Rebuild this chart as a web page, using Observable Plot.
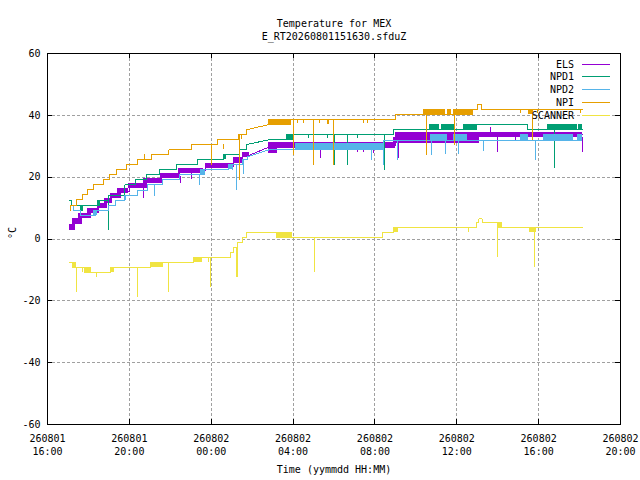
<!DOCTYPE html>
<html><head><meta charset="utf-8">
<script src="https://cdn.jsdelivr.net/npm/d3@7"></script>
<script src="https://cdn.jsdelivr.net/npm/@observablehq/plot@0.6"></script>
<style>body{margin:0;background:#fff}svg{display:block}</style>
</head><body><div id="chart"></div>
<script>
// ---- labels / ticks ----
const titleLines = ["Temperature for MEX", "E_RT20260801151630.sfduZ"];
const xTitle = "Time (yymmdd HH:MM)";
const yTitle = "°C";
const seriesNames = ["ELS", "NPD1", "NPD2", "NPI", "SCANNER"];
const seriesColors = ["#9400d3", "#009e73", "#56b4e9", "#e69f00", "#f0e442"];
// x = hours since 260801 16:00
const xTicks = [0, 4, 8, 12, 16, 20, 24, 28];
const xTickLabels = ["260801\n16:00", "260801\n20:00", "260802\n00:00", "260802\n04:00", "260802\n08:00", "260802\n12:00", "260802\n16:00", "260802\n20:00"];
const yTicks = [-60, -40, -20, 0, 20, 40, 60];

// ---- ELS ----
const elsLine = [[1.08,3.7],[1.30,3.7],[1.30,5.6],[1.60,5.6],[1.60,7.3],[2.00,7.3],[2.00,9.0],[2.50,9.0],[2.50,10.6],[2.85,10.6],[2.85,12.2],[3.10,12.2],[3.10,13.8],[3.50,13.8],[3.50,15.4],[4.00,15.4],[4.00,17.0],[4.80,17.0],[4.80,18.7],[5.55,18.7],[5.55,20.3],[6.45,20.3],[6.45,22.0],[7.70,22.0],[7.70,23.6],[9.10,23.6],[9.10,25.4],[9.54,25.4],[9.54,27.1],[9.87,27.1],[10.81,29.7],[10.81,30.3],[17.0,30.3],[17.0,33.8],[26.13,33.8]];
const elsBands = [[1.08,1.37,2.7,4.7],[1.24,1.70,4.7,6.5],[1.53,2.15,6.5,8.2],[1.94,2.56,8.2,9.8],[2.43,2.92,9.8,11.4],[2.80,3.16,11.4,13.0],[3.08,3.62,13.0,14.6],[3.41,3.97,14.6,16.2],[3.97,4.90,16.2,17.9],[4.71,5.60,17.9,19.5],[5.52,6.50,19.5,21.1],[6.42,7.64,21.1,22.9],[7.72,9.10,22.7,24.5],[9.10,9.54,24.5,26.3],[9.54,9.87,26.3,27.9],[10.81,11.22,27.7,29.3],[10.81,17.0,29.3,31.2],[16.9,21.1,31.0,32.9],[17.0,26.13,32.9,34.6]];
const elsSpikes = [[4.71,17.0,13.0],[6.50,20.3,17.9],[7.02,22.0,19.1],[10.98,29.3,28.1],[11.15,29.3,28.1],[13.34,29.3,26.0],[15.13,29.3,28.1],[15.46,29.3,28.1],[15.95,29.3,27.8],[17.17,31.0,26.0],[21.65,34.6,36.0],[22.0,32.9,28.0],[22.87,32.9,31.4],[26.13,32.9,28.0]];

// ---- NPD1 ----
const npd1Line = [[1.08,12.5],[1.17,12.5],[1.17,10.8],[2.43,10.8],[2.43,12.5],[3.00,12.5],[3.00,14.1],[3.78,14.1],[3.78,17.5],[4.30,17.5],[4.30,19.1],[4.82,19.1],[4.82,20.8],[5.47,20.8],[5.47,22.4],[6.29,22.4],[6.29,24.0],[7.32,24.0],[7.32,25.6],[8.59,25.6],[8.59,27.2],[9.38,27.2],[9.38,28.8],[9.71,28.8],[9.71,30.5],[10.81,32.1],[12.04,32.1],[12.04,33.7],[16.92,33.7],[16.92,35.4],[20.96,35.4],[20.96,37.0],[23.44,37.0],[23.44,35.4],[26.14,35.4]];
const npd1Bands = [[1.61,1.77,8.9,10.8],[2.43,2.59,10.5,12.5],[8.59,8.73,25.6,27.2],[11.68,12.04,32.1,33.7],[18.68,19.17,35.4,37.0],[19.24,19.94,35.4,37.0],[20.34,20.96,35.4,37.0],[24.42,25.88,35.4,37.0],[25.95,26.14,35.4,37.0]];
const npd1Spikes = [[3.00,12.5,2.7],[12.04,33.7,32.5],[12.77,33.7,32.5],[13.67,33.7,32.5],[14.04,33.7,23.8],[14.67,33.7,23.8],[15.17,33.7,32.5],[16.48,33.7,22.2],[24.79,35.4,22.8]];

// ---- NPD2 ----
const npd2Line = [[1.13,10.8],[1.25,10.8],[1.25,9.2],[1.60,9.2],[1.60,7.6],[2.35,7.6],[2.35,9.2],[3.00,9.2],[3.00,10.8],[3.32,10.8],[3.32,12.5],[3.78,12.5],[3.78,14.1],[4.38,14.1],[4.38,15.7],[4.90,15.7],[4.90,17.5],[5.60,17.5],[5.60,19.1],[6.45,19.1],[6.45,20.8],[7.48,20.8],[7.48,22.4],[8.86,22.4],[8.86,24.0],[9.51,24.0],[9.51,25.6],[9.76,25.6],[9.76,26.6],[10.81,28.8],[16.43,28.8],[16.43,32.0],[26.13,32.0]];
const npd2Bands = [[2.26,2.43,7.6,9.2],[7.48,7.72,20.5,22.4],[8.86,9.03,22.4,24.0],[12.1,16.43,28.8,30.8],[18.72,19.53,32.0,33.8],[19.85,20.51,32.0,33.8],[23.11,23.52,32.0,33.8],[24.25,25.72,32.0,33.8],[25.88,26.13,32.0,33.8]];
const npd2Spikes = [[3.81,14.1,12.5],[5.23,17.5,13.7],[7.44,20.8,17.3],[9.03,24.0,22.0],[9.24,24.0,15.7],[9.59,25.6,20.8],[15.82,28.8,25.4],[16.43,28.8,23.8],[17.09,32.0,25.5],[18.76,32.0,27.1],[19.45,32.0,27.3],[20.10,32.0,27.3],[21.29,32.0,28.4],[23.85,32.0,25.5]];

// ---- NPI ----
const npiLine = [[1.10,9.2],[1.10,10.8],[1.42,10.8],[1.42,12.7],[1.70,12.7],[1.70,14.4],[1.94,14.4],[1.94,16.0],[2.26,16.0],[2.26,17.5],[2.72,17.5],[2.72,19.1],[3.04,19.1],[3.04,20.8],[3.37,20.8],[3.37,22.4],[3.85,22.4],[3.85,24.0],[4.38,24.0],[4.38,25.6],[5.08,25.6],[5.08,27.2],[5.93,27.2],[5.93,28.8],[7.02,28.8],[7.02,30.5],[8.29,30.5],[8.29,32.1],[9.32,32.1],[9.32,33.7],[9.71,33.7],[9.71,35.3],[10.81,37.0],[11.87,37.0],[11.87,38.6],[17.01,38.6],[17.01,40.2],[20.75,40.2],[20.75,41.9],[21.0,41.9],[21.0,43.5],[21.2,43.5],[21.2,41.9],[26.14,41.9]];
const npiBands = [[10.81,11.87,37.0,38.6],[13.67,13.78,37.0,38.6],[18.35,19.45,40.2,41.9],[19.53,19.75,40.2,41.9],[19.82,20.75,40.2,41.9],[23.52,23.68,40.2,41.9]];
const npiSpikes = [[4.75,25.6,27.2],[8.00,30.5,23.8],[8.60,30.5,29.0],[9.36,33.7,18.9],[9.48,33.7,32.2],[12.02,38.6,27.0],[12.20,38.6,37.4],[12.50,38.6,37.4],[13.01,38.6,23.8],[13.30,38.6,37.4],[13.99,38.6,23.8],[15.44,38.6,37.4],[15.62,38.6,37.4],[18.52,40.2,27.1],[19.90,40.2,30.3],[23.10,41.9,40.5],[23.69,41.9,32.0],[23.93,41.9,40.5],[26.05,41.9,40.5]];

// ---- SCANNER ----
const scanLine = [[1.08,-7.7],[1.24,-7.7],[1.24,-9.1],[1.81,-9.1],[1.81,-10.7],[3.08,-10.7],[3.08,-9.1],[5.03,-9.1],[5.03,-7.7],[7.12,-7.7],[7.12,-6.1],[8.94,-6.1],[8.94,-4.5],[9.10,-4.5],[9.10,-2.8],[9.30,-2.8],[9.30,-1.2],[9.51,-1.2],[9.51,0.4],[9.71,0.4],[9.71,2.0],[11.19,2.0],[11.19,0.4],[16.38,0.4],[16.38,2.0],[16.92,2.0],[16.92,3.6],[20.95,3.6],[20.95,5.2],[21.08,5.2],[21.08,6.5],[21.24,6.5],[21.24,5.2],[22.0,5.2],[22.0,3.6],[26.16,3.6]];
const scanBands = [[1.24,1.40,-9.1,-7.7],[1.81,2.15,-10.7,-9.1],[3.08,3.27,-10.7,-9.1],[5.03,5.65,-9.1,-7.7],[7.12,7.56,-7.7,-6.1],[11.19,11.96,0.4,2.0],[16.92,17.14,2.0,3.6],[22.0,22.22,3.6,5.2],[23.57,23.88,2.0,3.6]];
const scanSpikes = [[1.42,-9.1,-17.2],[1.72,-9.1,-10.7],[2.39,-10.7,-12.4],[4.41,-9.1,-18.8],[5.93,-7.7,-17.2],[7.88,-6.1,-7.7],[7.98,-6.1,-15.6],[9.24,-2.8,-12.4],[9.27,-2.8,-12.4],[13.06,0.4,-10.7],[20.59,3.6,2.0],[22.0,3.6,-6.1],[23.81,2.0,-9.1]];

const seriesData = [
  [elsLine, elsBands, elsSpikes],
  [npd1Line, npd1Bands, npd1Spikes],
  [npd2Line, npd2Bands, npd2Spikes],
  [npiLine, npiBands, npiSpikes],
  [scanLine, scanBands, scanSpikes]
];

const W = 640, Hh = 480, mL = 47, mR = 20, mT = 53, mB = 56;
const frameW = W - mL - mR, frameH = Hh - mT - mB;
const grid = {stroke: "#a0a0a0", strokeOpacity: 1, strokeDasharray: "3,2", strokeWidth: 1};

const seriesMarks = seriesData.flatMap(([line, bands, spikes], i) => {
  const c = seriesColors[i];
  return [
    Plot.rect(bands, {x1: d => d[0], x2: d => d[1], y1: d => d[2], y2: d => d[3], fill: c}),
    Plot.ruleX(spikes, {x: d => d[0], y1: d => d[1], y2: d => d[2], stroke: c, strokeWidth: 1}),
    Plot.line(line, {x: d => d[0], y: d => d[1], stroke: c, strokeWidth: 1, curve: "linear"})
  ];
});

const plot = Plot.plot({
  width: W, height: Hh,
  marginLeft: mL, marginRight: mR, marginTop: mT, marginBottom: mB,
  style: {fontFamily: "'DejaVu Sans Mono', monospace", fontSize: "10px", background: "#fff", color: "#000"},
  x: {domain: [0, 28]},
  y: {domain: [-60, 60]},
  marks: [
    Plot.gridX(xTicks.slice(1, -1), grid),
    Plot.gridY(yTicks.slice(1, -1), grid),
    ...seriesMarks,
    Plot.frame({stroke: "#000", strokeWidth: 1}),
    Plot.ruleX(xTicks, {x: d => d, insetTop: frameH - 5, stroke: "#000"}),
    Plot.ruleX(xTicks, {x: d => d, insetBottom: frameH - 5, stroke: "#000"}),
    Plot.ruleY(yTicks, {y: d => d, insetRight: frameW - 5, stroke: "#000"}),
    Plot.ruleY(yTicks, {y: d => d, insetLeft: frameW - 5, stroke: "#000"}),
    Plot.axisX(xTicks, {tickSize: 0, tickPadding: 8, lineHeight: 1.3, tickFormat: d => xTickLabels[xTicks.indexOf(d)], label: null}),
    Plot.axisY(yTicks, {tickSize: 0, tickPadding: 7, tickFormat: d => String(d), label: null}),
    Plot.text([titleLines[0]], {frameAnchor: "top", dy: -34}),
    Plot.text([titleLines[1]], {frameAnchor: "top", dy: -21}),
    Plot.text([xTitle], {frameAnchor: "bottom", dy: 48}),
    Plot.text([yTitle], {frameAnchor: "left", dx: -35, rotate: -90})
  ]
});
plot.setAttribute("shape-rendering", "crispEdges");
document.getElementById("chart").append(plot);

// legend inside the plot, top right
const svg = d3.select(plot);
const lg = svg.append("g").attr("font-family", "'DejaVu Sans Mono', monospace").attr("font-size", 10);
seriesNames.forEach((name, i) => {
  const yy = 64 + i * 12.9;
  lg.append("text").attr("x", 574).attr("y", yy).attr("dy", "0.35em").attr("text-anchor", "end").attr("fill", "#000").text(name);
  lg.append("line").attr("x1", 582).attr("x2", 610).attr("y1", yy).attr("y2", yy).attr("stroke", seriesColors[i]).attr("stroke-width", 1);
});
</script>
</body></html>
